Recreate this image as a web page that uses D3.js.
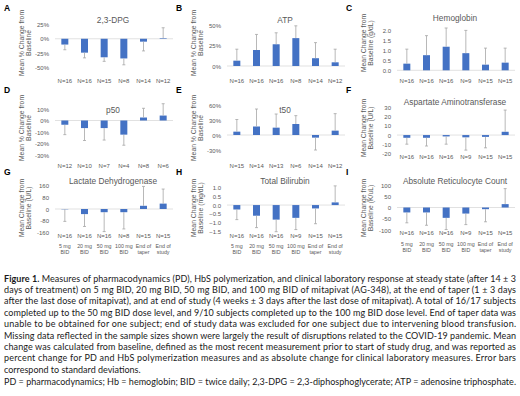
<!DOCTYPE html>
<html>
<head>
<meta charset="utf-8">
<script src="https://cdn.jsdelivr.net/npm/d3@7"></script>
<style>
  body { margin: 0; background: #fff; }
  svg { display: block; }
  .tick text { fill: #595959; font-family: "Liberation Sans", Arial, sans-serif; font-size: 6px; }
</style>
</head>
<body>
<svg id="fig" width="520" height="396"></svg>
<script>
// categories
const doseLabels = [["5 mg","BID"],["20 mg","BID"],["50 mg","BID"],["100 mg","BID"],["End of","taper"],["End of","study"]];

// A 2,3-DPG (% change)
const dpgN = ["N=16","N=16","N=15","N=8","N=14","N=12"];
const dpgMean = [-10, -24, -32, -34, -5, 1];
const dpgSD = [9, 9, 7, 11, 16, 18];
const dpgTicks = [25, 0, -25, -50];

// B ATP (% change)
const atpN = ["N=16","N=16","N=16","N=8","N=14","N=12"];
const atpMean = [6.5, 19.5, 26.5, 34, 9.5, 4.5];
const atpSD = [14, 19, 14, 15, 19, 16];
const atpTicks = [50, 25, 0];

// C Hemoglobin (g/dL)
const hbN = ["N=16","N=16","N=16","N=9","N=15","N=15"];
const hbMean = [0.33, 0.75, 1.17, 0.85, 0.28, 0.38];
const hbSD = [0.72, 0.97, 0.93, 1.13, 0.82, 0.72];
const hbTicks = [2, 1.5, 1, 0.5, 0];

// D p50 (% change)
const p50N = ["N=12","N=10","N=7","N=4","N=8","N=6"];
const p50Mean = [-3.7, -6.6, -6.6, -12.3, 2.6, 4.3];
const p50SD = [8.6, 10.8, 10.4, 9.2, 8, 10.3];
const p50Ticks = [10, 0, -10, -20, -30];

// E t50 (% change)
const t50N = ["N=15","N=14","N=13","N=6","N=14","N=12"];
const t50Mean = [6.7, 17, 14.7, 22, -5.3, 8.7];
const t50SD = [24.3, 35, 27.3, 16.7, 24.7, 34];
const t50Ticks = [60, 30, 0, -30];

// F AST (U/L)
const astN = ["N=16","N=16","N=16","N=9","N=15","N=15"];
const astMean = [-3, -3, -1.5, -2.5, -2, 3.6];
const astSD = [7, 9, 8.5, 14, 12, 23.8];
const astTicks = [30, 20, 10, 0, -10, -20];

// G LDH (U/L)
const ldhN = ["N=16","N=16","N=16","N=8","N=15","N=15"];
const ldhMean = [-2, -35, -22, -22, 22, 37];
const ldhSD = [83, 85, 133, 115, 133, 100];
const ldhTicks = [160, 80, 0, -80, -160];

// H Total bilirubin (mg/dL)
const bilN = ["N=16","N=16","N=16","N=9","N=15","N=15"];
const bilMean = [-0.25, -0.6, -0.82, -0.72, -0.19, 0.15];
const bilSD = [0.57, 0.67, 0.68, 0.66, 0.86, 0.93];
const bilTicks = [1, 0.5, 0, -0.5, -1, -1.5];

// I Absolute reticulocyte count (K/uL)
const retN = ["N=16","N=16","N=16","N=9","N=15","N=15"];
const retMean = [-22, -22, -46, -27, -7.5, 15];
const retSD = [46, 57, 52, 49, 56, 69];
const retTicks = [100, 50, 0, -50, -100];

const captionLines = [
  "Measures of pharmacodynamics (PD), HbS polymerization, and clinical laboratory response at steady state (after 14 \u00b1 3",
  "days of treatment) on 5 mg BID, 20 mg BID, 50 mg BID, and 100 mg BID of mitapivat (AG-348), at the end of taper (1 \u00b1 3 days",
  "after the last dose of mitapivat), and at end of study (4 weeks \u00b1 3 days after the last dose of mitapivat). A total of 16/17 subjects",
  "completed up to the 50 mg BID dose level, and 9/10 subjects completed up to the 100 mg BID dose level. End of taper data was",
  "unable to be obtained for one subject; end of study data was excluded for one subject due to intervening blood transfusion.",
  "Missing data reflected in the sample sizes shown were largely the result of disruptions related to the COVID-19 pandemic. Mean",
  "change was calculated from baseline, defined as the most recent measurement prior to start of study drug, and was reported as",
  "percent change for PD and HbS polymerization measures and as absolute change for clinical laboratory measures. Error bars",
  "correspond to standard deviations.",
  "PD = pharmacodynamics; Hb = hemoglobin; BID = twice daily; 2,3-DPG = 2,3-diphosphoglycerate; ATP = adenosine triphosphate."
];

const pct = d => d + "%";
const one = d3.format(".1f");
const int = d => String(d);

// layout per panel
const panels = [
  {letter: "A", title: "2,3-DPG", ylab: ["Mean % Change from", "Baseline"], n: dpgN, mean: dpgMean, sd: dpgSD, ticks: dpgTicks, fmt: pct,
   ox: 0, top: 24.3, bottom: 67.7, dom: [-50, 25], nY: 82.5, titleY: 23, letterY: 11, ylabY: 43},
  {letter: "B", title: "ATP", ylab: ["Mean % Change from", "Baseline"], n: atpN, mean: atpMean, sd: atpSD, ticks: atpTicks, fmt: pct,
   ox: 172, top: 25, bottom: 66, dom: [0, 50], nY: 82.5, titleY: 23, letterY: 11, ylabY: 43},
  {letter: "C", title: "Hemoglobin", ylab: ["Mean Change from", "Baseline (g/dL)"], n: hbN, mean: hbMean, sd: hbSD, ticks: hbTicks, fmt: one,
   ox: 342, top: 30, bottom: 70.3, dom: [0, 2], nY: 82.5, titleY: 21, letterY: 11, ylabY: 43},
  {letter: "D", title: "p50", ylab: ["Mean % Change from", "Baseline"], n: p50N, mean: p50Mean, sd: p50SD, ticks: p50Ticks, fmt: pct,
   ox: 0, top: 109, bottom: 155, dom: [-30, 10], nY: 167.5, titleY: 113, letterY: 93, ylabY: 128},
  {letter: "E", title: "t50", ylab: ["Mean % Change from", "Baseline"], n: t50N, mean: t50Mean, sd: t50SD, ticks: t50Ticks, fmt: pct,
   ox: 172, top: 105, bottom: 150, dom: [-30, 60], nY: 167.5, titleY: 113, letterY: 93, ylabY: 128},
  {letter: "F", title: "Aspartate Aminotransferase", ylab: ["Mean Change from", "Baseline (U/L)"], n: astN, mean: astMean, sd: astSD, ticks: astTicks, fmt: int,
   ox: 342, top: 107.7, bottom: 153.3, dom: [-20, 30], nY: 159, titleY: 105, letterY: 93, ylabY: 128},
  {letter: "G", title: "Lactate Dehydrogenase", ylab: ["Mean Change from", "Baseline (U/L)"], n: ldhN, mean: ldhMean, sd: ldhSD, ticks: ldhTicks, fmt: int,
   ox: 0, top: 185.7, bottom: 232.3, dom: [-160, 160], nY: 238, doseY: 248, titleY: 183.5, letterY: 175, ylabY: 208},
  {letter: "H", title: "Total Bilirubin", ylab: ["Mean Change from", "Baseline (mg/dL)"], n: bilN, mean: bilMean, sd: bilSD, ticks: bilTicks, fmt: one,
   ox: 172, top: 187.3, bottom: 231.7, dom: [-1.5, 1], nY: 238, doseY: 248, titleY: 183.5, letterY: 175, ylabY: 208},
  {letter: "I", title: "Absolute Reticulocyte Count", ylab: ["Mean Change from", "Baseline (K/uL)"], n: retN, mean: retMean, sd: retSD, ticks: retTicks, fmt: int,
   ox: 342, top: 185, bottom: 230, dom: [-100, 100], nY: 234.5, doseY: 245.5, titleY: 183.5, letterY: 175, ylabY: 208}
];

const svg = d3.select("#fig");
svg.append("rect").attr("width", 520).attr("height", 396).attr("fill", "#fff");

const font = "'Liberation Sans', Arial, sans-serif";
const grey = "#595959";

panels.forEach(p => {
  const g = svg.append("g").attr("transform", `translate(${p.ox},0)`);
  const idx = d3.range(p.mean.length);

  const xScale = d3.scaleBand()
    .domain(idx)
    .range([55, 173]);
  const yScale = d3.scaleLinear()
    .domain(p.dom)
    .range([p.bottom, p.top]);
  const cx = i => xScale(i) + xScale.bandwidth() / 2;
  const barW = 7;

  // panel letter
  g.append("text")
    .attr("x", 4).attr("y", p.letterY)
    .attr("font-family", font).attr("font-weight", "bold").attr("font-size", 8.5)
    .attr("fill", "#000")
    .text(p.letter);

  // title
  g.append("text")
    .attr("x", 113).attr("y", p.titleY)
    .attr("text-anchor", "middle")
    .attr("font-family", font).attr("font-size", 8.3)
    .attr("fill", grey)
    .text(p.title);

  // y axis label, two lines
  g.append("text")
    .attr("transform", `translate(23.5,${p.ylabY}) rotate(-90)`)
    .attr("text-anchor", "middle")
    .attr("font-family", font).attr("font-size", 6.8)
    .attr("fill", grey)
    .selectAll("tspan")
    .data(p.ylab)
    .join("tspan")
    .attr("x", 0)
    .attr("dy", (d, i) => i === 0 ? 0 : 7.2)
    .text(d => d);

  // value axis
  const yAxis = g.append("g")
    .attr("transform", "translate(55,0)")
    .call(d3.axisLeft(yScale).tickValues(p.ticks).tickSize(0).tickPadding(6).tickFormat(p.fmt));
  yAxis.select(".domain").remove();
  yAxis.selectAll(".tick text").attr("dy", "0.34em");

  // zero line
  g.append("line")
    .attr("x1", 55).attr("x2", 173)
    .attr("y1", yScale(0)).attr("y2", yScale(0))
    .attr("stroke", "#d9d9d9").attr("stroke-width", 0.8);

  // bars
  g.selectAll("rect.bar")
    .data(idx)
    .join("rect")
    .attr("class", "bar")
    .attr("x", i => cx(i) - barW / 2)
    .attr("width", barW)
    .attr("y", i => Math.min(yScale(p.mean[i]), yScale(0)))
    .attr("height", i => Math.abs(yScale(p.mean[i]) - yScale(0)))
    .attr("fill", "#4472c4");

  // error bars (one-sided, away from zero)
  const errEnd = i => p.mean[i] + (p.mean[i] < 0 ? -p.sd[i] : p.sd[i]);
  g.selectAll("line.err")
    .data(idx)
    .join("line")
    .attr("class", "err")
    .attr("x1", cx).attr("x2", cx)
    .attr("y1", i => yScale(p.mean[i]))
    .attr("y2", i => yScale(errEnd(i)))
    .attr("stroke", "#a6a6a6").attr("stroke-width", 0.8);
  g.selectAll("line.cap")
    .data(idx)
    .join("line")
    .attr("class", "cap")
    .attr("x1", i => cx(i) - 1.5).attr("x2", i => cx(i) + 1.5)
    .attr("y1", i => yScale(errEnd(i)))
    .attr("y2", i => yScale(errEnd(i)))
    .attr("stroke", "#a6a6a6").attr("stroke-width", 0.8);

  // N labels
  g.selectAll("text.n")
    .data(idx)
    .join("text")
    .attr("class", "n")
    .attr("x", cx).attr("y", p.nY)
    .attr("text-anchor", "middle")
    .attr("font-family", font).attr("font-size", 6)
    .attr("fill", grey)
    .text(i => p.n[i]);

  // dose labels on bottom row
  if (p.doseY) {
    idx.forEach(i => {
      g.append("text")
        .attr("x", cx(i)).attr("y", p.doseY)
        .attr("text-anchor", "middle")
        .attr("font-family", font).attr("font-size", 5.3)
        .attr("fill", grey)
        .selectAll("tspan")
        .data(doseLabels[i])
        .join("tspan")
        .attr("x", cx(i))
        .attr("dy", (d, k) => k === 0 ? 0 : 6)
        .text(d => d);
    });
  }
});

// caption: shrink the font until every line fits, then justify with spacing
const capFont = "Lato, 'Open Sans', sans-serif";
const capY = [281.5, 292.9, 304.3, 315.7, 327.1, 338.5, 349.9, 361.3, 372.7, 385];
const justify = [true, true, true, true, true, true, true, true, false, true];
const capWidth = 512;
let capSize = 9.6;

const capTexts = captionLines.map((line, i) => {
  const t = svg.append("text")
    .attr("x", 4).attr("y", capY[i])
    .attr("font-family", capFont).attr("font-size", capSize)
    .attr("fill", "#1a1a1a");
  if (i === 0) t.append("tspan").attr("font-weight", "bold").text("Figure 1. ");
  t.append("tspan").text(line);
  return t;
});
const widest = d3.max(capTexts, t => t.node().getComputedTextLength());
if (widest > capWidth) capSize = capSize * capWidth / widest * 0.995;
capTexts.forEach((t, i) => {
  t.attr("font-size", capSize);
  if (justify[i]) t.attr("textLength", capWidth).attr("lengthAdjust", "spacing");
});
</script>
</body>
</html>
